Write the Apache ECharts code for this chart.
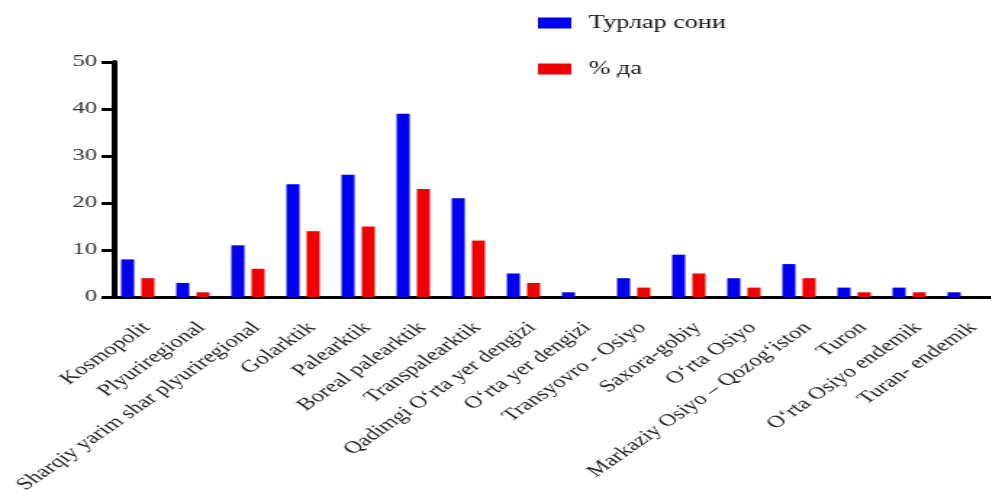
<!DOCTYPE html>
<html>
<head>
<meta charset="utf-8">
<script src="https://cdn.jsdelivr.net/npm/echarts@6/dist/echarts.min.js"></script>
<style>
html,body{margin:0;padding:0;background:#fff;overflow:hidden;width:991px;height:493px}
#c{width:684px;height:493px;transform:scaleX(1.45);transform-origin:0 0}
</style>
</head>
<body>
<div id="c"></div>
<script>
const categories = ["Kosmopolit","Plyuriregional","Sharqiy yarim shar plyuriregional","Golarktik","Palearktik","Boreal palearktik","Transpalearktik","Qadimgi O\u02bbrta yer dengizi","O\u02bbrta yer dengizi","Transyovro - Osiyo","Saxora-gobiy","O\u02bbrta Osiyo","Markaziy Osiyo \u2013 Qozog\u02bbiston","Turon","O\u02bbrta Osiyo endemik","Turan- endemik"];
const turlarSoni = [8,3,11,24,26,39,21,5,1,4,9,4,7,2,2,1];
const foizda = [4,1,6,14,15,23,12,3,0,2,5,2,4,1,1,0];
const seriesNames = ["Турлар сони","% да"];
const yTicks = {min:0, max:50, interval:10};

const font = 'Liberation Serif, Times New Roman, serif';
const chart = echarts.init(document.getElementById('c'));
chart.setOption({
  animation:false,
  backgroundColor:'#fff',
  grid:{left:76, top:62, width:608, bottom:196, containLabel:false, outerBoundsMode:'none'},
  legend:{
    orient:'vertical', left:366, top:9, itemWidth:23, itemHeight:11, itemGap:28,
    icon:'rect',
    textStyle:{fontFamily:font, fontSize:18, lineHeight:18, color:'#111', padding:[0,0,0,7]},
    data:seriesNames
  },
  xAxis:{
    type:'category', data:categories,
    axisLine:{lineStyle:{color:'#000', width:3}},
    axisTick:{alignWithLabel:true, length:8, lineStyle:{color:'#000', width:3}},
    axisLabel:{rotate:45, interval:0, margin:22, verticalAlign:'top', fontFamily:font, fontSize:17, color:'#222'}
  },
  yAxis:{
    type:'value', min:yTicks.min, max:yTicks.max, interval:yTicks.interval, offset:-3,
    axisLine:{show:true, lineStyle:{color:'#000', width:4}},
    axisTick:{show:true, length:9, lineStyle:{color:'#000', width:3}},
    axisLabel:{fontFamily:font, fontSize:17, color:'#333', margin:12},
    splitLine:{show:false}
  },
  series:[
    {name:seriesNames[0], type:'bar', data:turlarSoni, barWidth:9, barGap:'55%', itemStyle:{color:'#0000f0'}},
    {name:seriesNames[1], type:'bar', data:foizda, barWidth:9, itemStyle:{color:'#f00000'}}
  ]
});
</script>
</body>
</html>
